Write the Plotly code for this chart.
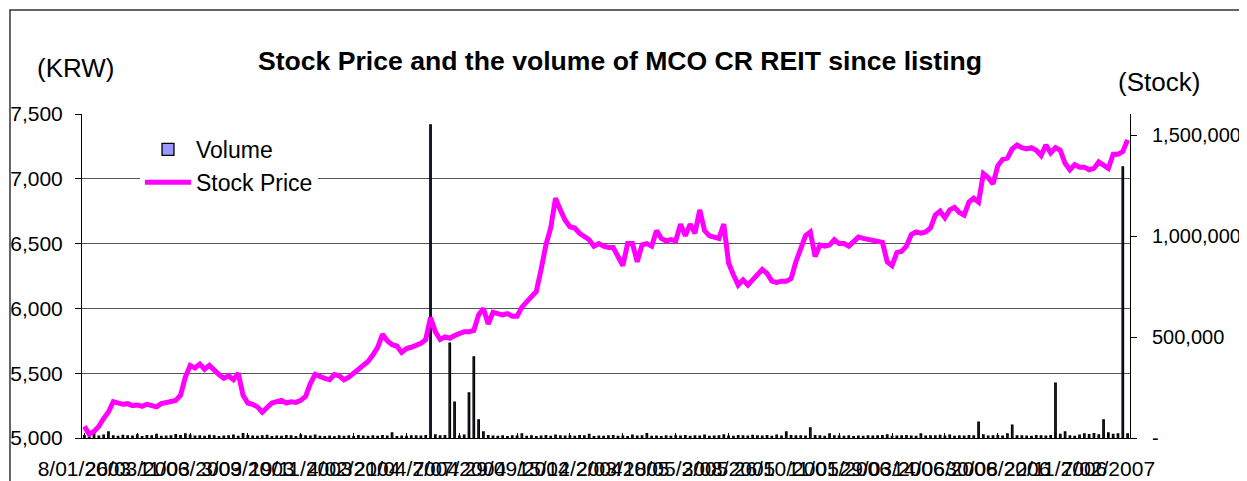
import datetime as dt
import plotly.graph_objects as go

# ---------------- data (weekly samples) ----------------
START_DATE = dt.date(2003, 1, 8)

price = [
    5090, 5030, 5050, 5090, 5150, 5200, 5280, 5270, 5260, 5265,
    5250, 5255, 5245, 5260, 5250, 5240, 5265, 5275, 5280, 5290,
    5330, 5470, 5560, 5540, 5570, 5530, 5560, 5520, 5490, 5460,
    5480, 5450, 5500, 5330, 5270, 5260, 5240, 5200, 5230, 5270,
    5280, 5290, 5270, 5280, 5275, 5290, 5320, 5420, 5490, 5470,
    5460, 5450, 5490, 5480, 5450, 5470, 5500, 5540, 5560, 5590,
    5640, 5700, 5800, 5750, 5720, 5710, 5660, 5690, 5700, 5710,
    5730, 5760, 5930, 5820, 5760, 5780, 5770, 5790, 5810, 5820,
    5820, 5830, 5950, 6000, 5880, 5970, 5960, 5950, 5960, 5940,
    5940, 6010, 6050, 6090, 6130, 6300, 6490, 6620, 6850, 6760,
    6680, 6630, 6620, 6580, 6560, 6530, 6480, 6500, 6480, 6470,
    6470, 6400, 6330, 6500, 6500, 6360, 6490, 6500, 6480, 6600,
    6540, 6520, 6530, 6520, 6650, 6560, 6650, 6580, 6760, 6600,
    6560, 6550, 6540, 6650, 6350, 6260, 6180, 6220, 6180, 6220,
    6260, 6300, 6270, 6210, 6200, 6210, 6210, 6230, 6360, 6470,
    6560, 6590, 6400, 6490, 6480, 6490, 6530, 6500, 6500, 6480,
    6510, 6550, 6540, 6530, 6530, 6520, 6510, 6360, 6330, 6430,
    6440, 6480, 6570, 6590, 6580, 6590, 6620, 6720, 6750, 6700,
    6760, 6780, 6740, 6720, 6820, 6850, 6820, 7040, 7010, 6960,
    7100, 7150, 7160, 7230, 7260, 7240, 7230, 7240, 7220, 7180,
    7260, 7200, 7240, 7220, 7120, 7070, 7110, 7090, 7090, 7070,
    7080, 7130, 7100, 7080, 7190, 7190, 7210, 7300,
]

volume = [
    12000, 18000, 25000, 9000, 14000, 30000, 11000, 8000, 13000, 10000,
    9000, 15000, 7000, 12000, 10000, 18000, 8000, 9000, 11000, 16000,
    12000, 20000, 14000, 9000, 10000, 8000, 13000, 11000, 7000, 9000,
    10000, 14000, 8000, 22000, 12000, 9000, 8000, 11000, 13000, 7000,
    9000, 8000, 12000, 10000, 7000, 15000, 11000, 9000, 14000, 8000,
    7000, 9000, 6000, 11000, 8000, 10000, 7000, 12000, 9000, 8000,
    10000, 8000, 12000, 9000, 25000, 7000, 9000, 8000, 11000, 10000,
    9000, 12000, 1550000, 15000, 10000, 12000, 470000, 178000, 9000, 14000,
    223000, 401000, 89000, 30000, 12000, 9000, 8000, 10000, 7000, 11000,
    9000, 20000, 8000, 10000, 7000, 9000, 12000, 8000, 14000, 10000,
    9000, 11000, 8000, 12000, 10000, 18000, 7000, 9000, 8000, 10000,
    12000, 8000, 9000, 7000, 14000, 9000, 10000, 22000, 8000, 9000,
    7000, 10000, 8000, 11000, 9000, 12000, 8000, 10000, 9000, 14000,
    8000, 9000, 10000, 15000, 9000, 8000, 12000, 10000, 9000, 13000,
    10000, 9000, 12000, 8000, 14000, 9000, 30000, 12000, 10000, 11000,
    9000, 50000, 12000, 10000, 8000, 20000, 11000, 9000, 8000, 10000,
    7000, 9000, 8000, 11000, 9000, 10000, 12000, 15000, 8000, 9000,
    10000, 12000, 9000, 8000, 20000, 9000, 11000, 10000, 13000, 9000,
    14000, 8000, 10000, 9000, 12000, 11000, 79000, 15000, 9000, 10000,
    12000, 9000, 20000, 64000, 11000, 10000, 9000, 8000, 12000, 10000,
    9000, 12000, 272000, 18000, 30000, 10000, 8000, 14000, 20000, 17000,
    22000, 15000, 89000, 25000, 18000, 20000, 1342000, 20000,
]

price_ticks = [5000, 5500, 6000, 6500, 7000, 7500]
volume_ticks = [0, 500000, 1000000, 1500000]
volume_tick_text = ["-", "500,000", "1,000,000", "1,500,000"]
label_every = 11.2   # label spacing, in weekly categories
n_labels = 20

# ---------------- derived categories ----------------
dates = [START_DATE + dt.timedelta(weeks=i) for i in range(len(price))]
cats = [d.isoformat() for d in dates]
tick_idx = [round(k * label_every) for k in range(n_labels)]
tick_vals = [cats[i] for i in tick_idx]
tick_text = [f"{dates[i].day}/{dates[i].month:02d}/{dates[i].year}" for i in tick_idx]

FONT = "Liberation Sans, Arial, sans-serif"

# The page body adds an 8px margin, so the figure is drawn 8px in from the
# window's top-left corner; layout positions below are in window pixels.
OFF = 8
WIN_W, WIN_H = 1247, 481
W, H = WIN_W - OFF, WIN_H - OFF
L, R, T, B = 82, 1130, 114, 438   # plot area in window pixels


def px_x(x):
    return (x - L) / (R - L)


def px_y(y):
    return (B - y) / (B - T)


fig = go.Figure()

fig.add_trace(go.Bar(
    x=cats, y=volume, name="Volume", yaxis="y",
    marker=dict(color="#9999FF", line=dict(color="black", width=1.3)),
))
fig.add_trace(go.Scatter(
    x=cats, y=price, name="Stock Price", yaxis="y2", mode="lines",
    line=dict(color="#FF00FF", width=5),
))

fig.update_layout(
    width=W, height=H,
    margin=dict(l=L - OFF, r=WIN_W - R, t=T - OFF, b=WIN_H - B, pad=0,
                autoexpand=False),
    paper_bgcolor="white", plot_bgcolor="white",
    font=dict(family=FONT, size=21, color="black"),
    bargap=0.7,
    showlegend=True,
    legend=dict(
        x=px_x(140), y=px_y(128), xanchor="left", yanchor="top",
        bgcolor="white", borderwidth=0,
        font=dict(family=FONT, size=23, color="black"),
        itemwidth=46, tracegroupgap=0,
    ),
    title=dict(
        text="<b>Stock Price and the volume of MCO CR REIT since listing</b>",
        font=dict(family=FONT, size=26.6, color="black"),
        x=(620 - OFF) / W, xanchor="center", xref="container",
        y=1 - (61 - OFF) / H, yanchor="middle", yref="container",
    ),
    xaxis=dict(
        type="category", automargin=False,
        tickmode="array", tickvals=tick_vals, ticktext=tick_text,
        tickangle=0, ticks="inside", ticklen=5, tickcolor="black",
        showline=True, linecolor="black", linewidth=1,
        showgrid=False, zeroline=False,
        tickfont=dict(family=FONT, size=21, color="black"),
        ticklabelstandoff=12,
    ),
    yaxis=dict(
        side="right", range=[0, 1604000], automargin=False,
        tickmode="array", tickvals=volume_ticks, ticktext=volume_tick_text,
        ticks="outside", ticklen=6, tickcolor="black",
        showline=True, linecolor="black", linewidth=1,
        showgrid=False, zeroline=False,
        tickfont=dict(family=FONT, size=20, color="black"),
        ticklabelstandoff=11,
    ),
    yaxis2=dict(
        side="left", overlaying="y", anchor="x", range=[5000, 7500],
        automargin=False,
        tickmode="array", tickvals=price_ticks, tickformat=",",
        ticks="outside", ticklen=6, tickcolor="black",
        showline=True, linecolor="black", linewidth=1,
        showgrid=True, gridcolor="#555555", gridwidth=1, zeroline=False,
        tickfont=dict(family=FONT, size=21, color="black"),
        ticklabelstandoff=8,
    ),
    annotations=[
        dict(text="(KRW)", x=px_x(76), y=px_y(68), xref="paper", yref="paper",
             xanchor="center", yanchor="middle", showarrow=False,
             font=dict(family=FONT, size=26, color="black")),
        dict(text="(Stock)", x=px_x(1159), y=px_y(82), xref="paper", yref="paper",
             xanchor="center", yanchor="middle", showarrow=False,
             font=dict(family=FONT, size=26, color="black")),
    ],
    shapes=[
        dict(type="rect", xref="paper", yref="paper",
             x0=px_x(10), y0=px_y(10), x1=px_x(1300), y1=px_y(520),
             line=dict(color="#333333", width=1.5), fillcolor="rgba(0,0,0,0)"),
    ],
)

fig.write_html("out.html")
